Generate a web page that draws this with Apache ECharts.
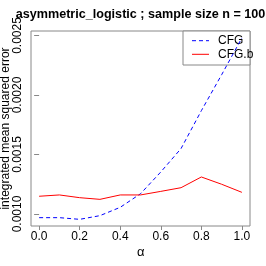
<!DOCTYPE html>
<html><head><meta charset="utf-8">
<script src="https://cdn.jsdelivr.net/npm/echarts@6/dist/echarts.min.js"></script>
<style>html,body{margin:0;padding:0;background:#fff}#c{width:266px;height:266px}</style>
</head><body><div id="c"></div>
<script>
const alpha = [0.0, 0.1, 0.2, 0.3, 0.4, 0.5, 0.6, 0.7, 0.8, 0.9, 1.0];
const cfg = [0.000969, 0.000969, 0.000955, 0.000986, 0.001056, 0.00117, 0.001353, 0.00155, 0.001868, 0.00217, 0.00248];
const cfgb = [0.001149, 0.00116, 0.001137, 0.001123, 0.00116, 0.00116, 0.00119, 0.001221, 0.001311, 0.00125, 0.001182];
const xTicks = [0.0, 0.2, 0.4, 0.6, 0.8, 1.0];
const yTicks = [0.0010, 0.0015, 0.0020, 0.0025];
const seriesNames = ['CFG', 'CFG.b'];

const F = 'Liberation Sans, Arial, Helvetica, sans-serif';
const BLUE = '#0000ff', RED = '#ff0000';
const chart = echarts.init(document.getElementById('c'), null, {renderer: 'canvas'});
chart.setOption({
  animation: false,
  grid: {left: 31, right: 16, top: 31, bottom: 40, show: true, borderColor: '#888', borderWidth: 1, backgroundColor: 'transparent'},
  xAxis: {
    type: 'value', min: -0.04, max: 1.04,
    axisLine: {show: false},
    splitLine: {show: false},
    axisTick: {show: true, length: 4, lineStyle: {color: '#888'}, customValues: xTicks},
    axisLabel: {customValues: xTicks, margin: 5, fontSize: 12, fontFamily: F, color: '#000', formatter: v => v.toFixed(1)}
  },
  yAxis: {
    type: 'value', min: 0.000899, max: 0.002538,
    axisLine: {show: false},
    splitLine: {show: false},
    axisTick: {show: true, length: 5, lineStyle: {color: '#888'}, customValues: yTicks},
    axisLabel: {customValues: yTicks, rotate: 90, margin: 7, fontSize: 12, fontFamily: F, color: '#000', formatter: v => v.toFixed(4)}
  },
  graphic: [
    {type: 'rect', z: 0, shape: {x: 183, y: 31, width: 67, height: 34}, style: {fill: '#fff', stroke: '#888', lineWidth: 1}},
    {type: 'line', z: 1, shape: {x1: 192, y1: 40.7, x2: 209, y2: 40.7}, style: {stroke: BLUE, lineWidth: 1, lineDash: [4, 3]}},
    {type: 'line', z: 1, shape: {x1: 192, y1: 54.3, x2: 209, y2: 54.3}, style: {stroke: RED, lineWidth: 1}},
    {type: 'text', z: 1, x: 218, y: 40.7, style: {text: seriesNames[0], font: '12px ' + F, fill: '#000', textAlign: 'left', textVerticalAlign: 'middle'}},
    {type: 'text', z: 1, x: 218, y: 54.3, style: {text: seriesNames[1], font: '12px ' + F, fill: '#000', textAlign: 'left', textVerticalAlign: 'middle'}},
    {type: 'text', x: 140.5, y: 15, style: {text: 'asymmetric_logistic ; sample size n = 100', font: 'bold 12.6px ' + F, fill: '#000', textAlign: 'center', textVerticalAlign: 'middle'}},
    {type: 'text', x: 5.5, y: 128.5, rotation: Math.PI / 2, style: {text: 'integrated mean squared error', font: '12px ' + F, fill: '#000', textAlign: 'center', textVerticalAlign: 'middle'}},
    {type: 'text', x: 140.7, y: 252, style: {text: 'α', font: '13px ' + F, fill: '#000', textAlign: 'center', textVerticalAlign: 'middle'}}
  ],
  series: [
    {name: seriesNames[0], type: 'line', data: alpha.map((a, i) => [a, cfg[i]]), symbol: 'none', z: 5,
     lineStyle: {color: BLUE, width: 1, type: [4, 3]}, itemStyle: {color: BLUE}},
    {name: seriesNames[1], type: 'line', data: alpha.map((a, i) => [a, cfgb[i]]), symbol: 'none', z: 5,
     lineStyle: {color: RED, width: 1, type: 'solid'}, itemStyle: {color: RED}}
  ]
});
</script></body></html>
